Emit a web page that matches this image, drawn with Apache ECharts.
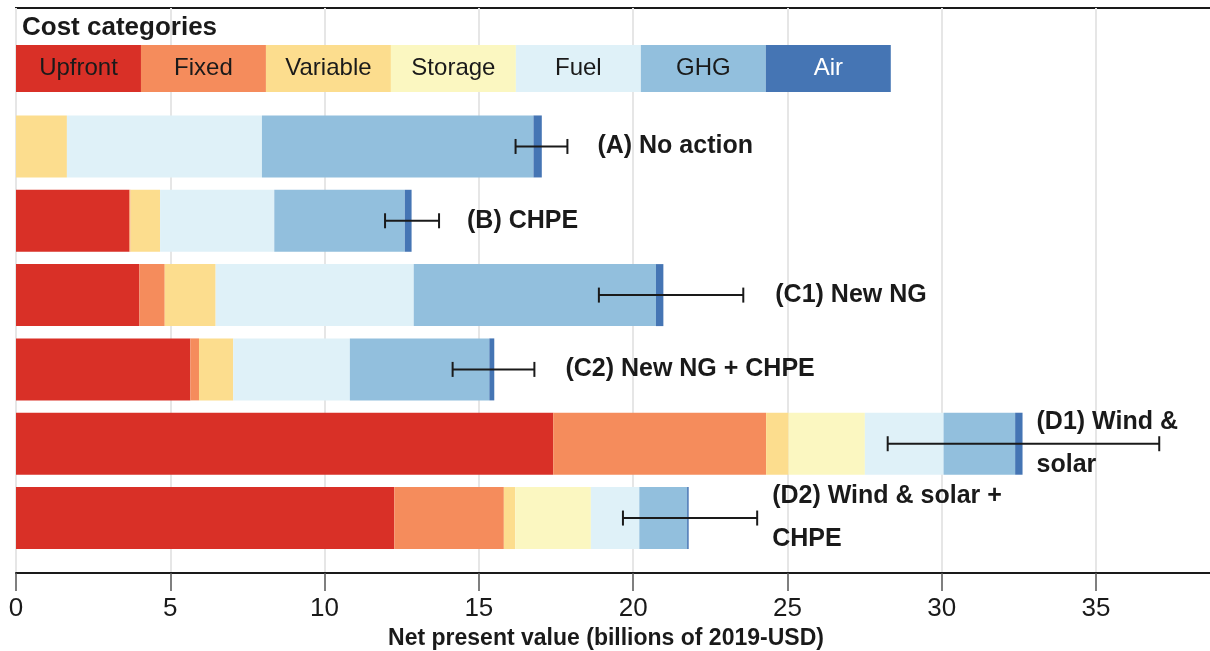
<!DOCTYPE html>
<html><head><meta charset="utf-8">
<script src="https://cdn.jsdelivr.net/npm/echarts@6/dist/echarts.min.js"></script>
<style>html,body{margin:0;padding:0;background:#fff}#c{width:1210px;height:651px}</style>
</head><body><div id="c"></div>
<script>
// ---- data ----
const costCategories = ['Upfront', 'Fixed', 'Variable', 'Storage', 'Fuel', 'GHG', 'Air'];
const scenarios = ['(A) No action', '(B) CHPE', '(C1) New NG', '(C2) New NG + CHPE', '(D1) Wind &\nsolar', '(D2) Wind & solar +\nCHPE'];
const upfront  = [0,    3.67, 4.00, 5.65, 17.41, 12.26];
const fixed    = [0,    0.04, 0.82, 0.28,  6.90,  3.55];
const variable = [1.65, 0.96, 1.65, 1.11,  0.73,  0.37];
const storage  = [0,    0,    0,    0,     2.47,  2.45];
const fuel     = [6.32, 3.70, 6.42, 3.78,  2.55,  1.57];
const ghg      = [8.80, 4.23, 7.85, 4.52,  2.32,  1.55];
const air      = [0.27, 0.22, 0.24, 0.16,  0.24,  0.05];
const errLow   = [16.19, 11.96, 18.89, 14.15, 28.25, 19.67];
const errHigh  = [17.87, 13.71, 23.57, 16.80, 37.05, 24.02];
const keyValues = [4.05, 4.05, 4.05, 4.05, 4.05, 4.05, 4.05];
const xTickStep = 5;

// ---- styles ----
const FONT = "'Liberation Sans', Arial, Helvetica, sans-serif";
const INK = '#1a1a1a';
const colors = ['#d93027', '#f58c5c', '#fcdd8e', '#fbf7c1', '#dff1f8', '#92bfdd', '#4575b4'];
const keyTextColors = [INK, INK, INK, INK, INK, INK, '#ffffff'];
const xMax = 38.76;
const labelOnBarEnd = [false, false, false, false, true, false];
const labelGap = [30, 28, 32, 31, 14, 15];

const segValues = [upfront, fixed, variable, storage, fuel, ghg, air];
const totals = scenarios.map((_, i) => segValues.reduce((s, arr) => s + arr[i], 0));

const chart = echarts.init(document.getElementById('c'), null, {renderer: 'canvas'});

const series = [];
costCategories.forEach((name, k) => {
  series.push({
    type: 'bar', name: name, stack: 'key', xAxisIndex: 1, yAxisIndex: 1,
    data: [keyValues[k]], barWidth: 47, itemStyle: {color: colors[k]},
    label: {show: true, position: 'inside', formatter: name, fontFamily: FONT, fontSize: 24, color: keyTextColors[k]},
    silent: true
  });
});
costCategories.forEach((name, k) => {
  series.push({
    type: 'bar', name: name + ' cost', stack: 'total', xAxisIndex: 2, yAxisIndex: 2,
    data: segValues[k], barWidth: 62, itemStyle: {color: colors[k]}, silent: true
  });
});
series.push({
  type: 'custom', xAxisIndex: 2, yAxisIndex: 2, z: 10, silent: true,
  data: scenarios.map((s, i) => [i, errLow[i], errHigh[i], totals[i]]),
  encode: {x: [1, 2], y: 0},
  renderItem: function (params, api) {
    const i = params.dataIndex;
    const p1 = api.coord([api.value(1), api.value(0)]);
    const p2 = api.coord([api.value(2), api.value(0)]);
    const pb = api.coord([api.value(3), api.value(0)]);
    const y = p1[1];
    const cap = 7.5;
    const ls = {stroke: INK, lineWidth: 2};
    const ax = (labelOnBarEnd[i] ? pb[0] : p2[0]) + labelGap[i];
    return {
      type: 'group',
      children: [
        {type: 'line', shape: {x1: p1[0], y1: y, x2: p2[0], y2: y}, style: ls},
        {type: 'line', shape: {x1: p1[0], y1: y - cap, x2: p1[0], y2: y + cap}, style: ls},
        {type: 'line', shape: {x1: p2[0], y1: y - cap, x2: p2[0], y2: y + cap}, style: ls},
        {type: 'text', style: {text: scenarios[i], x: ax, y: y, align: 'left', verticalAlign: 'middle',
          fill: INK, font: 'bold 25px ' + FONT, lineHeight: 43}}
      ]
    };
  }
});

chart.setOption({
  animation: false,
  backgroundColor: '#ffffff',
  textStyle: {fontFamily: FONT},
  title: {text: 'Cost categories', left: 22, top: 15, padding: 0,
    textStyle: {fontFamily: FONT, fontSize: 26, fontWeight: 'bold', color: INK}},
  grid: [
    {left: 16, right: -2, top: 8, bottom: 78, show: true, borderColor: INK, borderWidth: 2,
     backgroundColor: 'transparent', outerBoundsMode: 'none', containLabel: false},
    {left: 16, right: -2, top: 45, height: 47, outerBoundsMode: 'none', containLabel: false},
    {left: 16, right: -2, top: 109.3, bottom: 95.8, outerBoundsMode: 'none', containLabel: false}
  ],
  xAxis: [
    {gridIndex: 0, type: 'value', min: 0, max: xMax, interval: xTickStep,
     axisLine: {show: true, lineStyle: {color: INK, width: 2}},
     axisTick: {show: true, length: 18, lineStyle: {color: '#555', width: 1.5}},
     axisLabel: {fontSize: 26, color: INK, margin: 23, fontFamily: FONT, showMaxLabel: false,
       formatter: v => (v % xTickStep === 0 ? String(v) : '')},
     splitLine: {show: true, lineStyle: {color: '#e6e6e6', width: 2}},
     name: 'Net present value (billions of 2019-USD)', nameLocation: 'middle', nameGap: 45,
     nameTextStyle: {fontSize: 23, fontWeight: 'bold', color: INK, fontFamily: FONT, padding: [0, 16, 0, 0]}},
    {gridIndex: 1, type: 'value', min: 0, max: xMax, show: false},
    {gridIndex: 2, type: 'value', min: 0, max: xMax, show: false}
  ],
  yAxis: [
    {gridIndex: 0, type: 'value', show: false},
    {gridIndex: 1, type: 'category', data: ['key'], show: false},
    {gridIndex: 2, type: 'category', data: scenarios, inverse: true, show: false}
  ],
  series: series
});
</script>
</body></html>
